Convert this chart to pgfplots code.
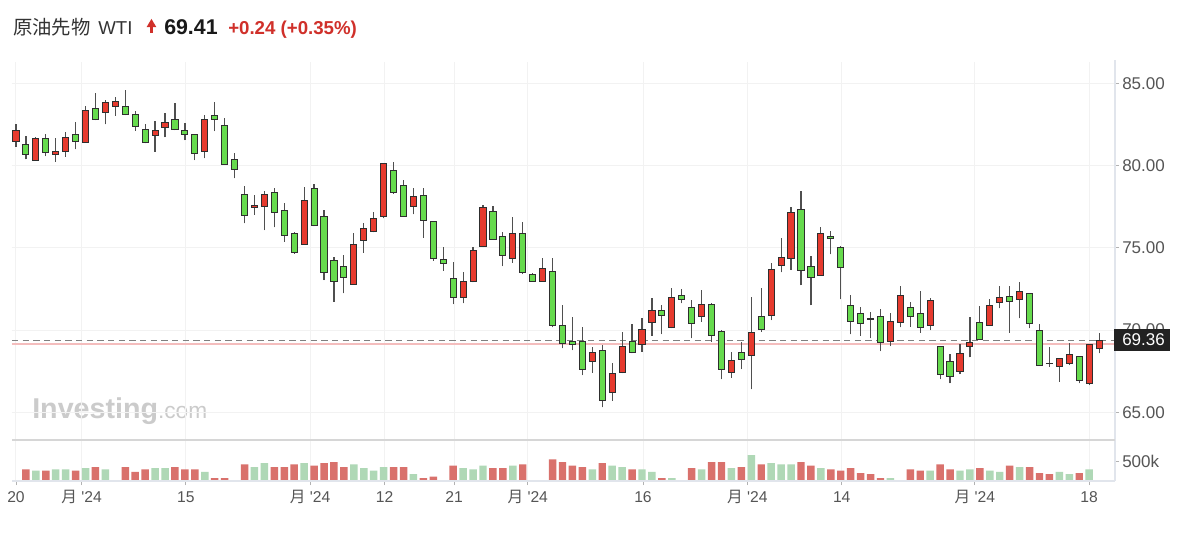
\documentclass[border=0pt]{standalone}
\usepackage{pgfplots}
\pgfplotsset{compat=1.18}
\usepackage{pgfplotstable}
\usepackage{fontspec}
\setmainfont{Liberation Sans}
\newfontfamily\lsans{Liberation Sans}[Ligatures=TeXOff]
\newfontfamily\cjk{Noto Sans CJK JP}
\definecolor{upred}{HTML}{E63A2E}
\definecolor{dngreen}{HTML}{66DA4D}
\definecolor{volred}{HTML}{D9716C}
\definecolor{volgreen}{HTML}{AFD8B6}
\definecolor{edge}{HTML}{2E2E2E}
\definecolor{wick}{HTML}{4F4F4F}
\definecolor{gridc}{HTML}{F2F2F2}
\definecolor{labc}{HTML}{555555}
\definecolor{hdrred}{HTML}{D0302A}
\definecolor{namec}{HTML}{333333}
\definecolor{borderc}{HTML}{E1E5EC}
\definecolor{sepc}{HTML}{D6D6D6}
\definecolor{wm}{HTML}{CBCBCB}
\definecolor{boxc}{HTML}{222222}
\definecolor{refred}{HTML}{F4BDBD}

% up candles (close > open): lo=open, hi=close
\pgfplotstableread{
i lo hi low high v
0 81.49 82.12 81.15 82.51 20
2 80.34 81.65 80.30 81.76 260
4 80.70 80.88 80.24 81.70 290
5 80.84 81.74 80.54 82.06 290
7 81.41 83.38 81.41 83.64 320
9 83.22 83.84 82.51 83.99 290
10 83.62 83.92 83.03 84.19 0
14 81.82 82.12 80.84 82.71 320
15 82.34 82.61 81.72 83.17 320
19 80.84 82.83 80.44 83.07 230
24 77.44 77.60 77.00 78.21 350
25 77.50 78.27 76.08 78.47 445
29 75.23 77.91 75.20 78.72 445
34 72.80 75.23 72.75 75.88 415
35 75.47 76.18 74.70 76.53 320
36 76.00 76.81 75.95 77.16 260
37 76.93 80.13 76.79 80.17 350
40 77.50 78.15 77.03 78.66 170
45 71.97 72.98 71.62 73.51 320
46 72.94 74.87 72.90 75.07 290
47 75.07 77.46 75.05 77.60 385
50 74.36 75.88 74.10 76.89 385
53 72.98 73.75 72.95 74.40 0
58 68.12 68.65 67.41 68.99 290
60 66.21 67.37 65.71 67.98 385
61 67.41 68.99 67.38 69.86 350
63 69.15 70.06 68.69 70.75 290
64 70.47 71.18 69.66 71.93 230
66 70.16 71.97 70.12 72.54 75
69 70.81 71.58 70.51 72.43 290
72 67.43 68.18 67.12 68.69 320
74 68.44 69.84 66.40 71.99 650
76 70.91 73.69 70.61 74.10 445
77 73.91 74.40 73.51 75.58 415
78 74.36 77.14 73.65 77.46 415
81 73.35 75.88 73.30 76.29 320
88 69.30 70.55 69.03 71.02 75
89 70.47 72.13 70.17 72.70 20
92 70.31 71.83 70.00 71.93 260
95 67.51 68.58 67.33 69.15 260
96 69.03 69.23 68.34 70.81 290
98 70.31 71.52 70.28 71.87 260
99 71.66 71.97 71.32 72.70 230
101 71.87 72.33 70.71 72.90 350
105 67.77 68.28 66.86 68.28 230
106 67.98 68.52 67.87 69.19 170
108 66.76 69.15 66.66 69.15 290
109 68.89 69.36 68.58 69.80 0
}\upc

% down candles (close < open): lo=close, hi=open
\pgfplotstableread{
i lo hi low high v
1 80.68 81.29 80.38 81.82 290
3 80.78 81.65 80.58 81.92 260
6 81.45 81.90 80.99 82.67 260
8 82.81 83.46 82.77 84.43 350
11 83.11 83.62 83.07 84.59 350
12 82.36 83.13 82.12 83.32 230
13 81.39 82.20 81.35 82.51 290
16 82.20 82.83 82.16 83.78 350
17 81.90 82.12 81.55 82.61 290
18 80.74 81.90 80.34 81.90 290
20 82.81 83.07 82.10 83.88 75
21 80.09 82.45 80.09 82.91 75
22 79.77 80.38 79.22 80.74 20
23 76.96 78.27 76.49 78.78 415
26 77.14 78.37 76.24 78.66 350
27 75.78 77.30 75.37 77.70 350
28 74.70 75.88 74.65 75.95 415
30 76.35 78.62 76.30 78.88 385
31 73.51 76.89 73.04 77.30 445
32 72.94 74.22 71.72 74.46 475
33 73.20 73.85 72.23 74.56 350
38 78.35 79.73 78.30 80.20 350
39 76.93 78.78 76.90 79.12 350
41 76.65 78.17 75.62 78.66 75
42 74.36 76.63 74.22 76.66 110
43 74.06 74.32 73.61 75.07 20
44 71.99 73.14 71.58 74.16 385
48 75.52 77.20 75.50 77.54 320
49 74.52 75.72 73.89 75.98 320
51 73.51 75.88 73.41 76.59 415
52 72.98 73.39 72.95 73.45 0
54 70.31 73.55 70.16 74.40 540
55 69.19 70.31 68.89 71.52 475
56 69.15 69.30 68.79 70.81 385
57 67.63 69.30 67.27 70.21 350
59 65.75 68.75 65.30 69.09 445
62 68.65 69.30 68.59 70.37 290
65 70.91 71.18 69.76 71.52 75
67 71.89 72.09 71.62 72.47 20
68 70.41 71.36 69.50 71.83 320
70 69.70 71.56 69.29 71.66 475
71 67.63 69.94 67.00 70.00 475
73 68.22 68.63 67.63 69.29 350
75 70.06 70.81 69.90 72.54 415
79 73.61 77.36 72.74 78.47 475
80 73.20 73.85 71.52 74.50 385
82 75.54 75.72 74.60 76.04 290
83 73.81 75.03 71.87 75.11 260
84 70.55 71.52 69.74 72.13 320
85 70.41 71.02 69.66 71.38 200
86 70.67 70.71 69.50 71.12 170
87 69.23 70.81 68.73 71.26 75
90 70.81 71.36 70.21 71.73 290
91 70.17 71.02 69.84 72.39 260
93 67.33 68.99 67.00 69.00 415
94 67.17 68.08 66.76 68.54 290
97 69.44 70.47 69.40 71.46 320
100 71.73 72.03 69.84 72.70 385
102 70.41 72.23 70.11 72.26 350
103 67.87 70.00 67.85 70.35 200
104 67.96 67.99 67.77 68.99 170
107 66.96 68.42 66.76 68.45 200
}\dnc

\pgfplotsset{
  paneX/.style={scale only axis, width=827.25pt, xmin=-0.4, xmax=110.6, anchor=south west},
  ylab/.style={yticklabel style={anchor=west, inner sep=0pt, xshift=2.25pt,
      font=\lsans\fontsize{12.75}{14}\selectfont, text=labc}},
  wickplot/.style={only marks, mark=*, mark size=0pt, mark options={draw=none, fill=none},
      error bars/.cd, y dir=plus, y explicit, error mark=none,
      error bar style={draw=wick, line width=0.9pt}},
}

\begin{document}
\begin{tikzpicture}
\path[use as bounding box, fill=white] (0,0) rectangle (900pt,-399.75pt);

% header
\node[anchor=base west, inner sep=0pt, text=namec] at (9.75pt,-25.5pt) {\cjk\fontsize{14.5}{16}\selectfont 原油先物};
\node[anchor=base west, inner sep=0pt, text=namec] at (73.5pt,-25.5pt) {\lsans\fontsize{14}{16}\selectfont WTI};
\fill[hdrred] (109.9pt,-20.4pt) -- (117.3pt,-20.4pt) -- (113.6pt,-14.2pt) -- cycle;
\fill[hdrred] (112.2pt,-20.5pt) rectangle (115pt,-24.8pt);
\node[anchor=base west, inner sep=0pt, text=black!90] at (123pt,-25.5pt) {\lsans\bfseries\fontsize{16}{18}\selectfont 69.41};
\node[anchor=base west, inner sep=0pt, text=hdrred] at (171pt,-25.5pt) {\lsans\bfseries\fontsize{14}{16}\selectfont +0.24 (+0.35\%)};

% watermark
\node[anchor=base west, inner sep=0pt, text=wm] at (24pt,-313.5pt) {\lsans\bfseries\fontsize{21.5}{24}\selectfont Investing\mdseries\fontsize{17}{20}\selectfont .com};

% price pane: grid, reference lines, wicks
\begin{axis}[paneX, at={(9pt,-330pt)}, height=283.5pt, ymin=63.32, ymax=86.30,
  axis line style={draw=none},
  xtick={0,6.6,17.1,29.6,37.1,44.1,51.5,63.1,73.6,83.1,96.5,108},
  xticklabel style={text opacity=0},
  ytick={65,70,75,80,85}, yticklabels={65.00,70.00,75.00,80.00,85.00},
  ytick pos=right, yticklabel pos=right,
  tick align=outside, major tick length=3pt,
  xtick style={draw=none}, ytick style={draw=black!30, line width=0.6pt},
  ylab,
  grid=major, major grid style={draw=gridc, line width=0.75pt},
]
\addplot[refred, line width=1.1pt] coordinates {(-0.4,69.17) (110.6,69.17)};
\addplot[black!50, line width=0.8pt, dash pattern=on 4.8pt off 3.2pt] coordinates {(-0.4,69.36) (110.6,69.36)};
\addplot[wickplot] table[x=i, y=low, y error expr=\thisrow{high}-\thisrow{low}] {\upc};
\addplot[wickplot] table[x=i, y=low, y error expr=\thisrow{high}-\thisrow{low}] {\dnc};
\end{axis}

% up bodies
\begin{axis}[paneX, at={(9pt,-330pt)}, height=283.5pt, ymin=63.32, ymax=86.30,
  hide axis, ybar stacked, bar width=4.6pt]
\addplot[draw=none, fill=none] table[x=i, y=lo] {\upc};
\addplot[draw=edge, line width=0.75pt, fill=upred] table[x=i, y expr=\thisrow{hi}-\thisrow{lo}] {\upc};
\end{axis}

% down bodies
\begin{axis}[paneX, at={(9pt,-330pt)}, height=283.5pt, ymin=63.32, ymax=86.30,
  hide axis, ybar stacked, bar width=4.6pt]
\addplot[draw=none, fill=none] table[x=i, y=lo] {\dnc};
\addplot[draw=edge, line width=0.75pt, fill=dngreen] table[x=i, y expr=\thisrow{hi}-\thisrow{lo}] {\dnc};
\end{axis}

% volume pane
\begin{axis}[paneX, at={(9pt,-360.75pt)}, height=30.75pt, ymin=0, ymax=1025,
  axis line style={draw=none},
  xtick={0,6.6,17.1,29.6,37.1,44.1,51.5,63.1,73.6,83.1,96.5,108},
  xticklabels={20,{{\cjk 月} '24},15,{{\cjk 月} '24},12,21,{{\cjk 月} '24},16,{{\cjk 月} '24},14,{{\cjk 月} '24},18},
  xtick pos=bottom, ytick pos=right, yticklabel pos=right,
  ytick={500}, yticklabels={500k},
  tick align=outside, major tick length=3pt,
  tick style={draw=black!30, line width=0.6pt},
  xticklabel style={anchor=base, inner sep=0pt, yshift=-13pt,
      font=\lsans\fontsize{11.75}{13}\selectfont, text=labc},
  ylab,
  xmajorgrids, major grid style={draw=gridc, line width=0.75pt},
]
\addplot[ybar, bar width=5.6pt, bar shift=0pt, draw=none, fill=volgreen] table[x=i, y=v] {\upc};
\addplot[ybar, bar width=5.6pt, bar shift=0pt, draw=none, fill=volred] table[x=i, y=v] {\dnc};
\end{axis}

% pane borders
\draw[borderc, line width=0.9pt] (836.25pt,-45pt) -- (836.25pt,-360.75pt);
\draw[sepc, line width=1.5pt] (9pt,-330pt) -- (836.25pt,-330pt);
\draw[borderc, line width=0.9pt] (9pt,-360.75pt) -- (836.25pt,-360.75pt);

% last price box
\fill[boxc] (835.5pt,-246.4pt) rectangle (877.5pt,-263.6pt);
\node[anchor=west, inner sep=0pt, text=white] at (841.5pt,-255pt) {\lsans\fontsize{12.75}{14}\selectfont 69.36};
\end{tikzpicture}
\end{document}
